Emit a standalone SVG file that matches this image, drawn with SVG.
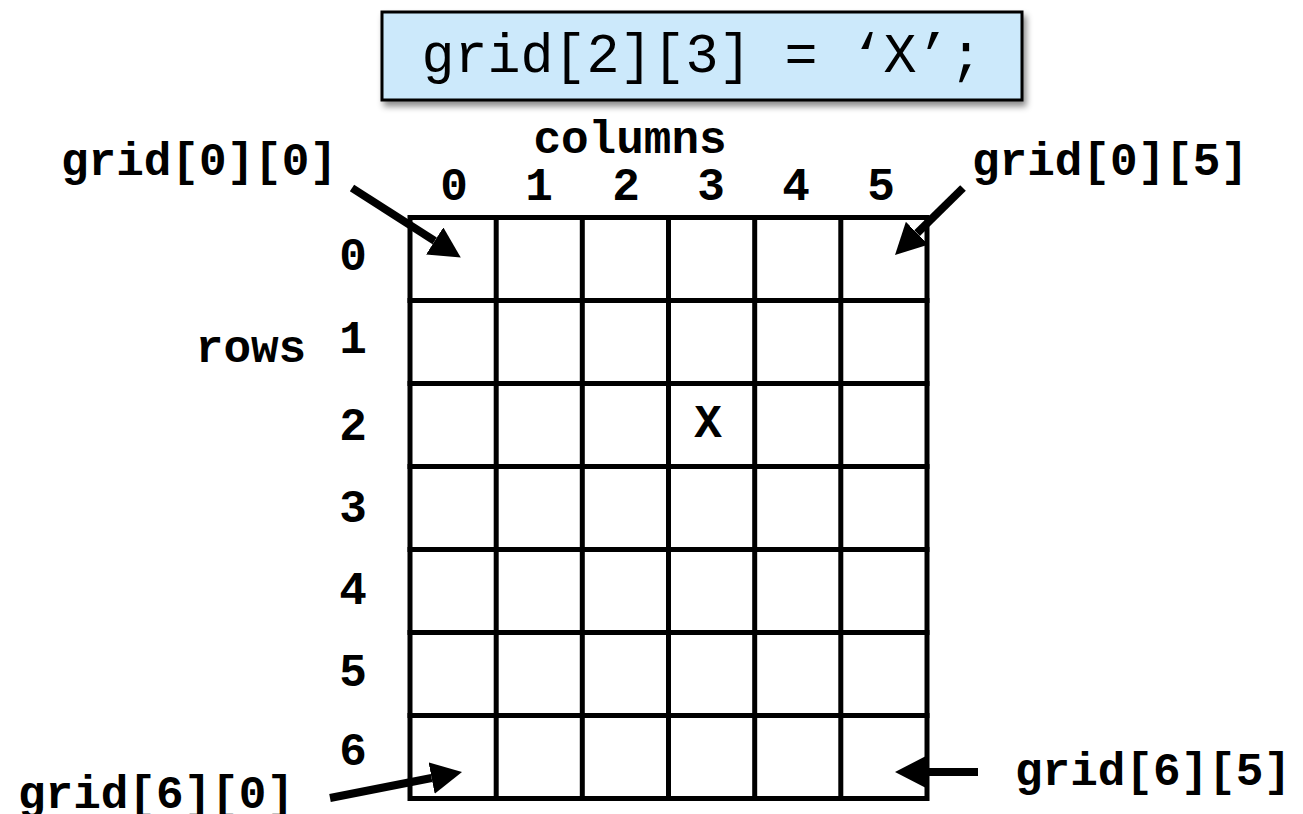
<svg xmlns="http://www.w3.org/2000/svg" width="1303" height="814" viewBox="0 0 1303 814">
<style>
.lbl{font-family:"Liberation Mono","Courier New",monospace;font-weight:bold;font-size:46px;fill:#000}
.code{font-family:"Liberation Mono","Courier New",monospace;font-size:55px;fill:#000}
.grid{stroke:#000;stroke-width:5;fill:none;stroke-linecap:square}
.arrow{stroke:#000;stroke-width:8;fill:none}
</style>
<defs>
<marker id="head" markerUnits="userSpaceOnUse" viewBox="0 0 31 32" refX="0" refY="16" markerWidth="31" markerHeight="32" orient="auto">
<path d="M0,0 L31,16 L0,32 Z" fill="#000"/>
</marker>
<filter id="shadow" x="-10%" y="-20%" width="120%" height="150%">
<feDropShadow dx="3" dy="5" stdDeviation="3" flood-color="#000" flood-opacity="0.45"/>
</filter>
</defs>
<rect width="1303" height="814" fill="#fff"/>
<g id="code-box">
<rect x="382" y="12" width="640" height="88" fill="#cce9fb" stroke="#000" stroke-width="3" filter="url(#shadow)"/>
<text class="code" x="702" y="72" text-anchor="middle">grid[2][3] = ‘X’;</text>
</g>
<g id="grid">
<rect class="grid" x="410" y="217.5" width="517" height="581"/>
<path class="grid" d="M496.2,217.5V798.5M582.3,217.5V798.5M668.5,217.5V798.5M754.7,217.5V798.5M840.8,217.5V798.5M410,300.5H927M410,383.5H927M410,466.5H927M410,549.5H927M410,632.5H927M410,715.5H927"/>
<text class="lbl" x="708" y="437" text-anchor="middle">X</text>
</g>
<g id="column-labels">
<text class="lbl" x="630" y="153" text-anchor="middle">columns</text>
<text class="lbl" x="454" y="200" text-anchor="middle">0</text>
<text class="lbl" x="539" y="200" text-anchor="middle">1</text>
<text class="lbl" x="626" y="200" text-anchor="middle">2</text>
<text class="lbl" x="711" y="200" text-anchor="middle">3</text>
<text class="lbl" x="796" y="200" text-anchor="middle">4</text>
<text class="lbl" x="881" y="200" text-anchor="middle">5</text>
</g>
<g id="row-labels">
<text class="lbl" x="251" y="362" text-anchor="middle">rows</text>
<text class="lbl" x="353" y="270" text-anchor="middle">0</text>
<text class="lbl" x="353" y="353" text-anchor="middle">1</text>
<text class="lbl" x="353" y="440" text-anchor="middle">2</text>
<text class="lbl" x="353" y="522" text-anchor="middle">3</text>
<text class="lbl" x="353" y="604" text-anchor="middle">4</text>
<text class="lbl" x="353" y="686" text-anchor="middle">5</text>
<text class="lbl" x="353" y="765" text-anchor="middle">6</text>
</g>
<g id="corner-labels">
<text class="lbl" x="61" y="175">grid[0][0]</text>
<text class="lbl" x="972" y="175">grid[0][5]</text>
<text class="lbl" x="18" y="808">grid[6][0]</text>
<text class="lbl" x="1015" y="785">grid[6][5]</text>
</g>
<g id="connectors">
<line class="arrow" x1="352" y1="188" x2="434.7" y2="240.9" marker-end="url(#head)"/>
<line class="arrow" x1="963" y1="188" x2="917.1" y2="233.2" marker-end="url(#head)"/>
<line class="arrow" x1="330" y1="798" x2="431.6" y2="778" marker-end="url(#head)"/>
<line class="arrow" x1="978" y1="772" x2="926" y2="772" marker-end="url(#head)"/>
</g>
</svg>
